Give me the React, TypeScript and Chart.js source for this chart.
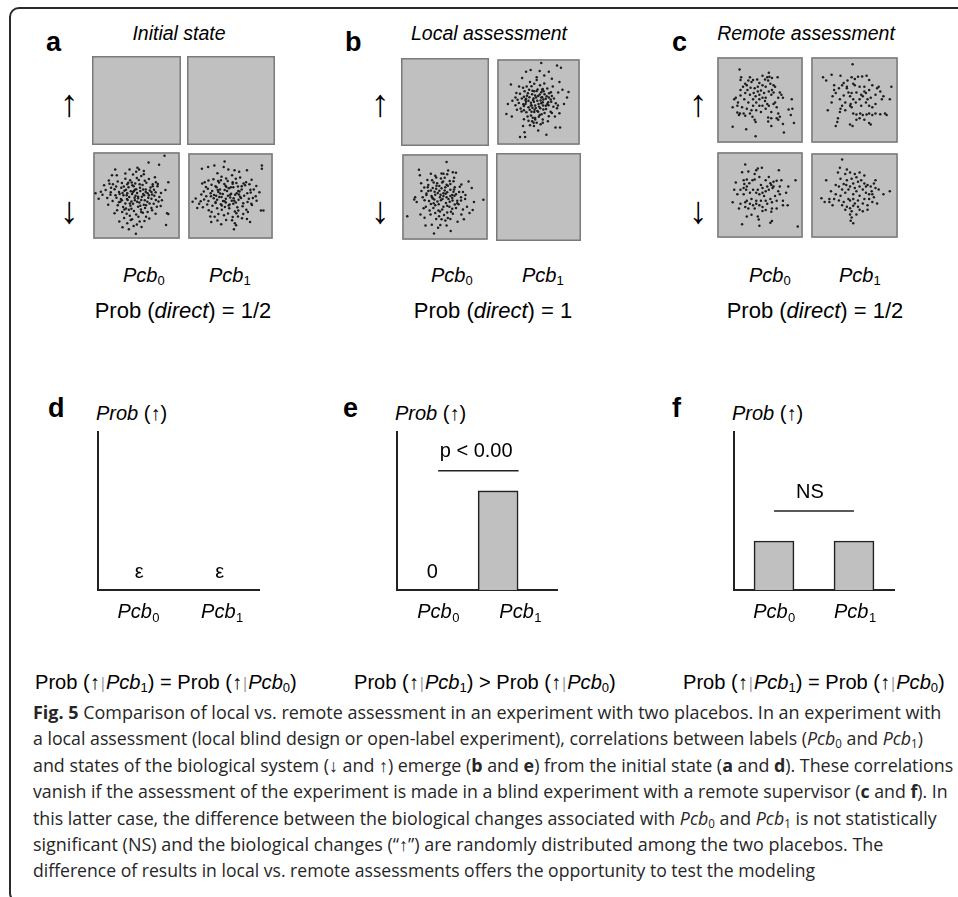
import React, { useEffect, useLayoutEffect, useRef } from "react";
import { Chart, registerables } from "chart.js";
Chart.register(...registerables);

const SANS = '"Liberation Sans", Arial, Helvetica, sans-serif';
const CAPTION = '"Open Sans", "Noto Sans", sans-serif';

// ---------- point clouds (units: position inside a square, 0..264, y measured from top) ----------
const emptyCloud: number[][] = [];

const cloudA_Pcb0_down: number[][] = [
  [220,7],[203,35],[170,28],[130,252],[225,225],[232,90],[223,115],[3,125],[13,142],[228,188],[232,190],[65,50],[110,50],[135,45],[140,50],[155,55],[155,65],[190,75],[193,90],[70,68],[55,68],[45,85],[47,95],[30,100],[35,115],[20,120],[25,130],[40,140],[50,130],
  [58,97],[73,88],[86,93],[97,79],[112,84],[121,66],[133,77],[147,71],[158,86],[171,80],[183,97],[92,104],[103,97],[117,91],[128,94],[139,83],[151,99],[163,92],[176,107],[187,114],[198,103],[209,124],[63,112],[77,121],[84,108],[99,114],[107,106],[123,103],[131,112],[142,97],[153,113],[161,121],[174,116],[181,129],[192,122],[204,137],[51,122],[66,131],[79,127],[94,117],[103,125],[114,119],[127,114],[134,124],[144,118],[156,131],[167,125],[179,142],[188,133],[201,151],[57,149],[69,139],[83,143],[91,131],[109,137],[118,127],[129,133],[137,141],[149,136],[158,147],[169,139],[186,158],[193,146],[73,163],[81,152],[97,157],[104,146],[116,151],[126,139],[141,154],[147,146],[155,161],[173,157],[179,171],[196,167],[71,178],[90,168],[99,173],[113,164],[121,158],[137,167],[146,176],[159,171],[167,184],[181,178],[63,188],[87,184],[101,189],[108,177],[124,181],[131,192],[152,186],[162,199],[93,203],[111,196],[118,207],[138,199],[157,212],[78,214],[103,219],[114,209],[133,223],[88,232],[108,238],[123,228],[142,214],[124,118],[143,108],[119,100],[101,131],[86,147],[134,152],[153,127],[171,131],[111,157],[94,176],[147,184],[166,152],[102,143],[121,121],[137,136],[161,113],[77,153],[183,103],[199,96],[212,147],[208,165],[43,161],[52,108],[131,57],[97,63],[172,204],[192,189],[148,231],[116,174],[88,124],[127,147],[162,163],[106,92],[144,164],[179,121],[68,104]
];

const cloudA_Pcb1_down: number[][] = [
  [233,35],[233,45],[113,22],[143,238],[70,215],[90,210],[150,225],[185,205],[195,215],[230,178],[238,178],[10,150],[20,140],[25,170],[40,45],[60,40],[80,35],[90,60],[110,40],[125,48],[145,50],[160,55],[185,50],[200,80],[215,100],[225,120],
  [61,83],[77,79],[92,84],[103,71],[118,76],[137,66],[149,77],[163,73],[182,88],[193,95],[53,103],[71,96],[84,101],[95,89],[112,94],[123,84],[139,93],[151,91],[168,101],[179,98],[196,112],[207,111],[46,118],[59,109],[73,116],[87,104],[98,111],[116,99],[127,107],[141,104],[157,116],[168,111],[186,123],[197,121],[213,133],[38,127],[54,133],[68,123],[79,129],[93,119],[107,126],[121,116],[134,125],[152,123],[163,134],[176,131],[191,141],[204,138],[36,149],[47,143],[61,148],[78,139],[89,144],[103,135],[117,141],[131,137],[144,147],[158,144],[173,155],[187,151],[201,161],[31,157],[43,168],[57,159],[74,163],[84,154],[101,158],[113,149],[129,159],[141,157],[154,168],[171,165],[183,176],[62,177],[71,183],[89,171],[104,176],[114,167],[128,171],[146,181],[157,178],[173,189],[81,198],[93,189],[111,193],[124,188],[139,199],[156,197],[118,208],[137,209],[146,219],[102,222],[113,113],[131,128],[147,128],[96,135],[108,148],[126,162],[149,153],[166,138],[84,151],[139,88],[156,102],[69,133],[101,82],[119,103],[161,118],[174,92],[136,147],[104,162],[91,113],[49,88],[41,92],[199,157],[216,147],[151,187],[67,197],[188,183],[169,203],[124,131],[142,139],[117,153],[99,124],[159,127],[133,104],[86,131]
];

const cloudB_Pcb1_up: number[][] = [
  [141,8],[193,16],[206,23],[136,33],[106,30],[91,36],[166,36],[78,56],[41,76],[126,53],[151,48],[176,58],[201,68],[211,93],[231,100],[226,118],[216,138],[196,143],[201,168],[186,178],[31,138],[26,170],[44,178],[46,128],[56,118],[81,208],[86,228],[71,243],[88,243],[131,223],[158,236],[188,213],[203,213],[111,193],[116,198],[121,188],[146,198],
  [81,87],[93,83],[109,82],[118,74],[137,79],[146,91],[161,89],[173,101],[86,98],[101,93],[112,96],[129,92],[141,101],[149,98],[167,104],[176,113],[71,106],[84,115],[97,104],[111,107],[121,111],[136,108],[144,117],[159,114],[172,124],[183,121],[63,125],[77,121],[89,126],[102,117],[116,121],[124,118],[139,127],[148,124],[164,133],[174,131],[189,136],[67,135],[82,139],[91,131],[107,134],[117,131],[132,138],[141,136],[156,144],[165,142],[181,147],[73,153],[84,145],[99,149],[109,142],[123,151],[134,147],[148,156],[157,154],[172,163],[76,162],[92,165],[103,157],[118,164],[128,161],[142,171],[152,167],[166,177],[96,178],[107,175],[121,183],[133,179],[146,188],[99,192],[126,198],[113,182],[139,203],[117,208],[104,206],[89,138],[114,126],[131,113],[146,133],[99,128],[121,143],[138,152],[161,138],[109,163],[136,173],[156,122],[94,112],[126,97],[144,93],[166,118],[84,158],[176,167],[59,103],[56,142],[104,68],[126,62],[151,73],[179,83],[197,102],[193,152],[163,193],[84,187],[61,157],[68,83],[131,163],[107,143],[152,107],[91,122],[141,118],[119,157],[128,128],[112,150],[147,143],[118,98]
];

const cloudB_Pcb0_down: number[][] = [
  [137,21],[49,45],[142,48],[157,53],[167,55],[127,58],[87,58],[52,63],[37,133],[34,140],[12,193],[42,148],[254,141],[224,148],[220,173],[210,183],[202,163],[217,103],[207,83],[97,248],[150,240],[110,230],[90,220],[70,223],[117,221],[137,223],[172,211],[192,203],[157,185],[54,188],[67,198],
  [76,78],[91,79],[104,70],[119,73],[131,71],[147,81],[159,82],[79,94],[96,86],[107,88],[123,86],[137,93],[149,91],[163,101],[179,99],[66,102],[77,101],[93,103],[105,96],[121,104],[133,101],[149,109],[161,108],[177,116],[189,116],[57,113],[73,121],[87,111],[99,115],[114,112],[127,120],[139,117],[155,126],[167,123],[183,133],[197,126],[61,133],[73,126],[89,129],[101,125],[116,133],[127,129],[143,138],[155,135],[171,144],[183,143],[67,142],[81,145],[93,137],[108,146],[119,142],[135,151],[147,147],[163,156],[175,155],[71,163],[87,154],[101,158],[112,155],[127,163],[139,160],[155,169],[167,167],[83,175],[95,167],[111,175],[123,172],[139,181],[151,179],[101,183],[113,193],[129,189],[141,199],[121,203],[104,202],[133,207],[91,133],[109,119],[131,111],[149,129],[96,152],[124,138],[146,163],[159,115],[114,97],[141,96],[171,152],[86,188],[101,64],[121,57],[139,60],[161,71],[184,92],[196,138],[189,172],[64,168],[56,88],[116,178],[134,122],[104,106],[156,143],[79,113],[126,83],[184,188],[149,202],[118,125],[137,133],[98,140],[162,128]
];

const cloudC_Pcb0_up: number[][] = [
  [67,35],[70,68],[95,70],[85,80],[78,90],[90,85],[105,75],[110,68],[123,67],[130,78],[148,67],[155,60],[162,58],[170,62],[188,60],[158,70],[165,80],[175,85],[180,90],[170,100],[150,90],[140,85],[125,90],[115,95],[102,93],[92,100],[85,110],[70,118],[50,130],[55,125],[45,155],[60,150],[68,175],[65,180],[80,175],[85,182],[100,175],[108,185],[115,195],[118,202],[105,165],[110,150],[120,140],[130,130],[140,125],[130,115],[118,120],[125,105],[135,102],[145,110],[160,105],[168,115],[175,108],[195,108],[200,115],[205,125],[180,140],[175,145],[160,150],[155,145],[140,150],[150,160],[135,170],[168,170],[190,175],[195,185],[190,195],[185,190],[168,190],[158,188],[158,200],[168,215],[205,208],[208,235],[233,130],[235,160],[230,180],[240,205],[45,217],[88,225],[118,247],[223,162],[95,140],[82,130],[70,100],[100,115],[110,130],[130,150],[90,160],[75,155],[120,165],[148,135],[185,155],[60,172],[72,60],[100,60],[140,55],[160,45],[112,110],[150,125],[190,125],[62,140]
];

const cloudC_Pcb1_up: number[][] = [
  [126,18],[33,60],[43,70],[60,52],[88,55],[110,70],[123,60],[133,65],[128,80],[143,58],[156,57],[170,55],[108,90],[93,85],[83,95],[68,100],[73,110],[63,120],[60,140],[48,165],[86,130],[98,118],[113,108],[123,110],[118,120],[128,130],[120,145],[123,155],[136,140],[148,130],[158,120],[168,110],[178,100],[188,85],[203,95],[213,105],[198,115],[183,125],[168,140],[178,150],[198,145],[218,130],[248,90],[243,130],[223,120],[88,160],[86,170],[80,190],[78,202],[73,215],[118,210],[126,215],[128,175],[138,178],[150,175],[158,180],[170,178],[178,175],[188,180],[198,175],[213,177],[228,175],[233,180],[148,190],[138,195],[163,195],[178,205],[183,210],[103,140],[93,150],[108,95],[148,90],[163,90],[178,68],[138,108],[153,115],[68,85],[98,78],[173,130],[208,90],[103,165],[153,150],[188,155],[133,85],[118,150],[163,105]
];

const cloudC_Pcb0_down: number[][] = [
  [85,35],[75,60],[95,57],[120,53],[125,48],[138,45],[192,53],[55,92],[80,85],[90,83],[108,85],[115,83],[82,97],[90,105],[80,110],[88,115],[70,115],[98,95],[135,100],[140,110],[155,105],[165,95],[175,90],[185,87],[200,85],[168,100],[160,115],[172,110],[150,120],[140,125],[130,130],[120,125],[190,120],[195,130],[180,135],[165,145],[150,150],[135,150],[120,150],[105,145],[90,150],[85,155],[100,160],[110,165],[120,160],[130,165],[140,170],[155,160],[170,155],[185,150],[205,150],[220,165],[205,165],[170,175],[150,180],[60,130],[45,155],[50,115],[245,85],[222,105],[90,200],[105,195],[125,200],[128,210],[168,185],[170,215],[165,220],[75,225],[130,230],[252,232],[70,160],[85,170],[95,175],[115,175],[140,183],[145,135],[110,115],[100,125],[125,115],[150,85],[175,105],[195,105],[185,175],[65,175],[115,65],[130,75],[160,75],[215,125],[80,130]
];

const cloudC_Pcb1_down: number[][] = [
  [93,16],[86,43],[80,58],[43,83],[88,78],[103,63],[118,58],[133,63],[148,58],[138,73],[123,78],[108,83],[98,95],[83,103],[93,113],[58,118],[73,128],[88,133],[103,123],[113,113],[118,103],[128,93],[143,88],[153,83],[163,93],[173,98],[183,103],[193,93],[198,83],[198,108],[186,118],[178,128],[168,123],[158,113],[148,103],[138,118],[128,128],[148,133],[163,143],[178,143],[188,153],[203,158],[193,138],[173,163],[158,158],[143,148],[128,143],[113,143],[98,153],[83,148],[68,143],[53,143],[38,153],[28,141],[63,163],[93,163],[108,168],[118,173],[128,165],[123,183],[118,193],[123,203],[120,213],[128,221],[148,178],[158,183],[173,178],[138,193],[243,118],[223,128],[208,113],[53,153],[106,98],[133,108],[118,148],[133,158],[103,178],[143,168],[168,103],[188,128],[108,48],[73,98],[163,68]
];

// ---------- bar panels ----------
const bottomCategories = ["Pcb0", "Pcb1"];

const dBarX = [0.256, 0.756];
const dBarY = [0, 0];
const dValueText = ["ε", "ε"];
const dTickX = [0.25, 0.77];

const eBarX = [0.22, 0.632];
const eBarY = [0, 0.627];
const eValueText = ["0", ""];
const eTickX = [0.257, 0.77];
const eSigX = [0.257, 0.76];
const eSigY = 0.755;

const fBarX = [0.25, 0.75];
const fBarY = [0.31, 0.31];
const fValueText = ["", ""];
const fTickX = [0.25, 0.755];
const fSigX = [0.25, 0.75];
const fSigY = 0.5;

// ---------- square chart ----------
const squareBg = {
  id: "squareBg",
  beforeDatasetsDraw(chart: any) {
    const { ctx, chartArea } = chart;
    const { left, top, right, bottom } = chartArea;
    ctx.save();
    ctx.fillStyle = "#c0c0c0";
    ctx.fillRect(left, top, right - left, bottom - top);
    ctx.strokeStyle = "#7a7a7a";
    ctx.lineWidth = 1.5;
    ctx.strokeRect(left + 0.75, top + 0.75, right - left - 1.5, bottom - top - 1.5);
    ctx.restore();
  },
};

function Square({ x, y, w, h, points }: { x: number; y: number; w: number; h: number; points: number[][] }) {
  const ref = useRef<HTMLCanvasElement>(null);
  useEffect(() => {
    const chart = new Chart(ref.current as HTMLCanvasElement, {
      type: "scatter",
      data: {
        datasets: [
          {
            data: points.map(([px, py]) => ({ x: px, y: py })),
            pointRadius: 1.25,
            pointHoverRadius: 1.25,
            backgroundColor: "#1c1c1c",
            borderWidth: 0,
          },
        ],
      },
      options: {
        responsive: false,
        animation: false,
        events: [],
        layout: { padding: 0 },
        plugins: { legend: { display: false }, tooltip: { enabled: false } },
        scales: {
          x: { display: false, min: -4, max: 268 },
          y: { display: false, min: -4, max: 268, reverse: true },
        },
      },
      plugins: [squareBg],
    } as any);
    return () => chart.destroy();
  }, []);
  return (
    <canvas ref={ref} width={w} height={h} style={{ position: "absolute", left: x, top: y, width: w, height: h }} />
  );
}

// ---------- bar panel chart ----------
function drawPcb(ctx: CanvasRenderingContext2D, cx: number, baseline: number, label: string) {
  const base = label.slice(0, -1);
  const sub = label.slice(-1);
  ctx.font = `italic 20px ${SANS}`;
  const w1 = ctx.measureText(base).width;
  ctx.font = `13px ${SANS}`;
  const w2 = ctx.measureText(sub).width;
  const start = cx - (w1 + w2) / 2;
  ctx.textAlign = "left";
  ctx.font = `italic 20px ${SANS}`;
  ctx.fillText(base, start, baseline);
  ctx.font = `13px ${SANS}`;
  ctx.fillText(sub, start + w1 + 0.5, baseline + 4);
}

type PanelProps = {
  axisLeft: number;
  axisWidth: number;
  barX: number[];
  barY: number[];
  valueText: string[];
  tickX: number[];
  sigX?: number[];
  sigY?: number;
  sigText?: string;
  sigTextX?: number;
  sigTextY?: number;
};

const AXIS_TOP = 432;
const AXIS_BOTTOM = 590;

function BarPanel(p: PanelProps) {
  const ref = useRef<HTMLCanvasElement>(null);
  const canvasLeft = p.axisLeft - 10;
  const canvasTop = 420;
  const cw = p.axisWidth + 40;
  const ch = 215;
  useEffect(() => {
    const textPlugin = {
      id: "panelText",
      afterDraw(chart: any) {
        const { ctx, scales } = chart;
        const xs = scales.x;
        const ys = scales.y;
        ctx.save();
        ctx.fillStyle = "#000";
        ctx.textBaseline = "alphabetic";
        p.tickX.forEach((tx, i) => {
          drawPcb(ctx, xs.getPixelForValue(tx), ys.getPixelForValue(0) + 28, bottomCategories[i]);
        });
        ctx.font = `20px ${SANS}`;
        ctx.textAlign = "center";
        p.valueText.forEach((t, i) => {
          if (!t) return;
          ctx.fillText(t, xs.getPixelForValue(p.barX[i]), ys.getPixelForValue(p.barY[i]) - 12);
        });
        if (p.sigText) {
          ctx.fillText(p.sigText, xs.getPixelForValue(p.sigTextX as number), ys.getPixelForValue(p.sigTextY as number));
        }
        ctx.restore();
      },
    };
    const datasets: any[] = [
      {
        type: "bar",
        data: p.barX.map((bx, i) => ({ x: bx, y: p.barY[i] })),
        backgroundColor: "#c0c0c0",
        borderColor: "#222",
        borderWidth: 1.6,
        borderSkipped: "bottom",
        barThickness: 40,
      },
    ];
    if (p.sigX) {
      datasets.push({
        type: "line",
        data: p.sigX.map((sx) => ({ x: sx, y: p.sigY })),
        borderColor: "#222",
        borderWidth: 1.6,
        pointRadius: 0,
        fill: false,
      });
    }
    const chart = new Chart(ref.current as HTMLCanvasElement, {
      type: "bar",
      data: { datasets },
      options: {
        responsive: false,
        animation: false,
        events: [],
        layout: {
          padding: {
            left: p.axisLeft - canvasLeft,
            top: AXIS_TOP - canvasTop,
            right: cw - (p.axisLeft - canvasLeft) - p.axisWidth,
            bottom: ch - (AXIS_BOTTOM - canvasTop),
          },
        },
        plugins: { legend: { display: false }, tooltip: { enabled: false } },
        scales: {
          x: {
            type: "linear",
            min: 0,
            max: 1,
            offset: false,
            grid: { display: false, drawTicks: false },
            ticks: { display: false },
            border: { display: true, color: "#222", width: 2 },
          },
          y: {
            min: 0,
            max: 1,
            grid: { display: false, drawTicks: false },
            ticks: { display: false },
            border: { display: true, color: "#222", width: 2 },
          },
        },
      },
      plugins: [textPlugin],
    } as any);
    return () => chart.destroy();
  }, []);
  return (
    <canvas ref={ref} width={cw} height={ch} style={{ position: "absolute", left: canvasLeft, top: canvasTop, width: cw, height: ch }} />
  );
}

// ---------- text helpers ----------
function Txt({
  x,
  y,
  size,
  children,
  center = false,
  family = SANS,
  weight = 400,
  italic = false,
  color = "#000",
  ratio = 0.8465,
  fit,
}: any) {
  const ref = useRef<HTMLDivElement>(null);
  useLayoutEffect(() => {
    if (!fit || !ref.current) return;
    const w = ref.current.offsetWidth;
    if (w > 0) ref.current.style.transform = `scaleX(${fit / w})`;
  }, [fit]);
  return (
    <div
      ref={ref}
      style={{
        position: "absolute",
        left: x,
        top: y - ratio * size,
        fontSize: size,
        lineHeight: `${size}px`,
        fontFamily: family,
        fontWeight: weight,
        fontStyle: italic ? "italic" : "normal",
        color,
        whiteSpace: "nowrap",
        transformOrigin: "left center",
        transform: center ? "translateX(-50%)" : undefined,
      }}
    >
      {children}
    </div>
  );
}

const Sub = ({ children }: any) => (
  <sub style={{ fontSize: "0.65em", verticalAlign: "-0.25em", lineHeight: 0, fontStyle: "normal" }}>{children}</sub>
);
const Pcb = ({ n }: any) => (
  <span>
    <i>Pcb</i>
    <Sub>{n}</Sub>
  </span>
);
const VBar = () => <span style={{ color: "#a0a0a0", fontSize: "0.8em", margin: "0 1px" }}>|</span>;

function PanelTop({ letter, letterX, title, titleCx, arrowX, pcb0X, pcb1X, probText, probCx }: any) {
  return (
    <>
      <Txt x={letterX} y={52} size={27} weight={700}>{letter}</Txt>
      <Txt x={titleCx} y={41} size={19.5} italic center>{title}</Txt>
      <Txt x={arrowX} y={116} size={38} center>↑</Txt>
      <Txt x={arrowX} y={223} size={38} center>↓</Txt>
      <Txt x={pcb0X} y={282} size={20}><Pcb n="0" /></Txt>
      <Txt x={pcb1X} y={282} size={20}><Pcb n="1" /></Txt>
      <Txt x={probCx} y={319} size={22} center>
        Prob (<i>direct</i>) = {probText}
      </Txt>
    </>
  );
}

const captionWidths = [908, 890, 920, 915, 904, 850, 782];
const captionLines = [
  <>
    <b>Fig. 5</b> Comparison of local vs. remote assessment in an experiment with two placebos. In an experiment with
  </>,
  <>
    a local assessment (local blind design or open-label experiment), correlations between labels (<i>Pcb</i>
    <Sub>0</Sub> and <i>Pcb</i>
    <Sub>1</Sub>)
  </>,
  <>
    and states of the biological system (↓ and ↑) emerge (<b>b</b> and <b>e</b>) from the initial state (<b>a</b> and <b>d</b>). These correlations
  </>,
  <>
    vanish if the assessment of the experiment is made in a blind experiment with a remote supervisor (<b>c</b> and <b>f</b>). In
  </>,
  <>
    this latter case, the difference between the biological changes associated with <i>Pcb</i>
    <Sub>0</Sub> and <i>Pcb</i>
    <Sub>1</Sub> is not statistically
  </>,
  <>significant (NS) and the biological changes (“↑”) are randomly distributed among the two placebos. The</>,
  <>difference of results in local vs. remote assessments offers the opportunity to test the modeling</>,
];

export default function App() {
  return (
    <div style={{ position: "absolute", left: 0, top: 0, width: 958, height: 897, overflow: "hidden", background: "#fff" }}>
      {/* frame */}
      <div
        style={{
          position: "absolute",
          left: 9,
          top: 7,
          width: 1000,
          height: 896,
          boxSizing: "border-box",
          border: "2px solid #2a2a2a",
          borderRadius: 10,
        }}
      />

      {/* panel a */}
      <PanelTop letter="a" letterX={46} title="Initial state" titleCx={179} arrowX={69} pcb0X={123} pcb1X={209} probText="1/2" probCx={183} />
      <Square x={92} y={56} w={89} h={89} points={emptyCloud} />
      <Square x={187} y={56} w={88} h={89} points={emptyCloud} />
      <Square x={92} y={151} w={89} h={89} points={cloudA_Pcb0_down} />
      <Square x={187} y={152} w={87} h={88} points={cloudA_Pcb1_down} />

      {/* panel b */}
      <PanelTop letter="b" letterX={345} title="Local assessment" titleCx={489} arrowX={380} pcb0X={431} pcb1X={522} probText="1" probCx={493} />
      <Square x={401} y={58} w={88} h={88} points={emptyCloud} />
      <Square x={496} y={58} w={85} h={88} points={cloudB_Pcb1_up} />
      <Square x={401} y={153} w={88} h={88} points={cloudB_Pcb0_down} />
      <Square x={496} y={153} w={85} h={88} points={emptyCloud} />

      {/* panel c */}
      <PanelTop letter="c" letterX={672} title="Remote assessment" titleCx={806} arrowX={698} pcb0X={749} pcb1X={839} probText="1/2" probCx={815} />
      <Square x={716} y={56} w={88} h={88} points={cloudC_Pcb0_up} />
      <Square x={810} y={56} w={89} h={88} points={cloudC_Pcb1_up} />
      <Square x={716} y={151} w={88} h={88} points={cloudC_Pcb0_down} />
      <Square x={810} y={152} w={89} h={87} points={cloudC_Pcb1_down} />

      {/* bottom panels */}
      <Txt x={48} y={418} size={27} weight={700}>d</Txt>
      <Txt x={96} y={420} size={20}><i>Prob</i> (↑)</Txt>
      <BarPanel axisLeft={98} axisWidth={161} barX={dBarX} barY={dBarY} valueText={dValueText} tickX={dTickX} />

      <Txt x={343} y={418} size={27} weight={700}>e</Txt>
      <Txt x={395} y={420} size={20}><i>Prob</i> (↑)</Txt>
      <BarPanel
        axisLeft={397}
        axisWidth={160}
        barX={eBarX}
        barY={eBarY}
        valueText={eValueText}
        tickX={eTickX}
        sigX={eSigX}
        sigY={eSigY}
        sigText="p < 0.00"
        sigTextX={0.495}
        sigTextY={0.84}
      />

      <Txt x={672} y={418} size={27} weight={700}>f</Txt>
      <Txt x={732} y={420} size={20}><i>Prob</i> (↑)</Txt>
      <BarPanel
        axisLeft={734}
        axisWidth={160}
        barX={fBarX}
        barY={fBarY}
        valueText={fValueText}
        tickX={fTickX}
        sigX={fSigX}
        sigY={fSigY}
        sigText="NS"
        sigTextX={0.475}
        sigTextY={0.585}
      />

      {/* relation row */}
      <Txt x={35} y={689} size={20} fit={262}>
        Prob (↑<VBar /><Pcb n="1" />) = Prob (↑<VBar /><Pcb n="0" />)
      </Txt>
      <Txt x={354} y={689} size={20} fit={262}>
        Prob (↑<VBar /><Pcb n="1" />) &gt; Prob (↑<VBar /><Pcb n="0" />)
      </Txt>
      <Txt x={683} y={689} size={20} fit={262}>
        Prob (↑<VBar /><Pcb n="1" />) = Prob (↑<VBar /><Pcb n="0" />)
      </Txt>

      {/* caption */}
      {captionLines.map((line, i) => (
        <Txt key={i} x={33} y={719 + i * 26.4} size={18} family={CAPTION} color="#262626" ratio={0.888} fit={captionWidths[i]}>
          {line}
        </Txt>
      ))}
    </div>
  );
}
